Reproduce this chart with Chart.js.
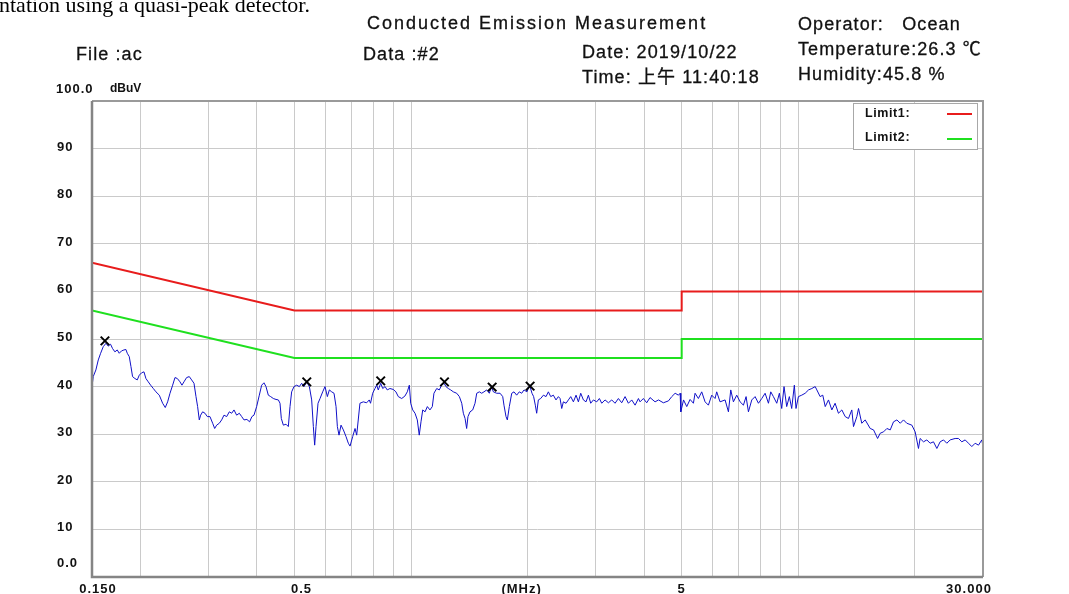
<!DOCTYPE html>
<html>
<head>
<meta charset="utf-8">
<script src="https://cdn.jsdelivr.net/npm/chart.js@4.4.1/dist/chart.umd.min.js"></script>
<style>
  html, body { margin:0; padding:0; background:#fff; }
  #wrap { position:relative; width:1069px; height:594px; overflow:hidden; }
  #grafica { position:absolute; left:0; top:0; }
  .txt {
    position:absolute; white-space:pre; line-height:1; color:#111;
    font-family:"Liberation Sans", Arial, "Noto Sans CJK SC", sans-serif;
    font-size:18px; letter-spacing:1.1px; -webkit-text-stroke:0.3px #111;
  }
  .doc { font-family:"Liberation Serif", "Times New Roman", serif; font-size:22px; letter-spacing:0; color:#000; -webkit-text-stroke:0; }
</style>
</head>
<body>
<div id="wrap">
  <canvas id="grafica" width="1069" height="594"></canvas>
  <div class="txt doc" style="left:-1px;top:-6px">ntation using a quasi-peak detector.</div>
  <div class="txt" style="left:367px;top:13.8px;letter-spacing:2px">Conducted Emission Measurement</div>
  <div class="txt" style="left:76px;top:44.8px">File :ac</div>
  <div class="txt" style="left:363px;top:44.8px">Data :#2</div>
  <div class="txt" style="left:582px;top:42.8px">Date: 2019/10/22</div>
  <div class="txt" style="left:582px;top:67.8px">Time: 上午 11:40:18</div>
  <div class="txt" style="left:798px;top:14.8px">Operator:   Ocean</div>
  <div class="txt" style="left:798px;top:39.8px">Temperature:26.3 ℃</div>
  <div class="txt" style="left:798px;top:64.8px">Humidity:45.8 %</div>
</div>
<script>
// frequency axis (MHz) and level axis (dBuV)
const X_MIN = 0.15;
const X_MAX = 30;
const X_GRID = [0.2, 0.3, 0.4, 0.5, 0.6, 0.7, 0.8, 0.9, 1, 2, 3, 4, 5, 6, 7, 8, 9, 10, 20];
const X_LABELS = [0.15, 0.5, 5, 30];
const X_LABEL_TEXT = ["0.150", "0.5", "5", "30.000"];
const Y_MIN = 0;
const Y_MAX = 100;
const Y_LABELS = [10, 20, 30, 40, 50, 60, 70, 80, 90];

// limit lines
const LIMIT1_MHZ = [0.15, 0.5, 5, 5, 30];
const LIMIT1_DBUV = [66, 56, 56, 60, 60];
const LIMIT2_MHZ = [0.15, 0.5, 5, 5, 30];
const LIMIT2_DBUV = [56, 46, 46, 50, 50];

const TRAZA_MHZ = [
  // 0.15 - 0.73 MHz
  0.150, 0.1511, 0.1535, 0.1557, 0.1579, 0.1604, 0.1630, 0.1652, 0.1675, 0.1695,
  0.1719, 0.1743, 0.1764, 0.1788, 0.1814, 0.1835, 0.1850, 0.1872, 0.1891, 0.1909,
  0.1936, 0.1963, 0.1987, 0.2015, 0.2043, 0.2067, 0.2096, 0.2126, 0.2160, 0.2194,
  0.2238, 0.2283, 0.2319, 0.2352, 0.2385, 0.2423, 0.2457, 0.2491, 0.2531, 0.2561,
  0.2592, 0.2633, 0.2675, 0.2713, 0.2751, 0.2784, 0.2811, 0.2839, 0.2862, 0.2896,
  0.2937, 0.2978, 0.3025, 0.3074, 0.3111, 0.3148, 0.3198, 0.3243, 0.3288, 0.3341,
  0.3394, 0.3442, 0.3490, 0.3545, 0.3602, 0.3653, 0.3704, 0.3768, 0.3829, 0.3882,
  0.3930, 0.3993, 0.4057, 0.4114, 0.4171, 0.4221, 0.4280, 0.4340, 0.4409, 0.4480,
  0.4543, 0.4588, 0.4624, 0.4680, 0.4755, 0.4821, 0.4869, 0.4917, 0.4986, 0.5066,
  0.5147, 0.5219, 0.5292, 0.5376, 0.5463, 0.5539, 0.5594, 0.5638, 0.5684, 0.5752,
  0.5821, 0.5913, 0.5996, 0.6080, 0.6153, 0.6239, 0.6326, 0.6402, 0.6453, 0.6517,
  0.6595, 0.6688, 0.6794, 0.6888, 0.6958, 0.7069, 0.7168, 0.7239,
  // 0.74 - 3.9 MHz
  0.738, 0.753, 0.768, 0.780, 0.786, 0.796, 0.807, 0.815, 0.823, 0.835,
  0.845, 0.857, 0.868, 0.882, 0.900, 0.914, 0.927, 0.946, 0.964, 0.978,
  0.990, 0.998, 1.010, 1.024, 1.038, 1.050, 1.061, 1.072, 1.087, 1.102,
  1.119, 1.135, 1.146, 1.165, 1.183, 1.200, 1.217, 1.231, 1.248, 1.266,
  1.286, 1.312, 1.333, 1.352, 1.365, 1.379, 1.392, 1.403, 1.420, 1.443,
  1.463, 1.478, 1.501, 1.522, 1.543, 1.568, 1.593, 1.612, 1.632, 1.664,
  1.698, 1.725, 1.738, 1.759, 1.773, 1.794, 1.820, 1.845, 1.874, 1.904,
  1.931, 1.958, 1.992, 2.024, 2.053, 2.073, 2.094, 2.111, 2.132, 2.162,
  2.197, 2.232, 2.263, 2.295, 2.331, 2.368, 2.402, 2.426, 2.450, 2.474,
  2.514, 2.549, 2.585, 2.626, 2.668, 2.705, 2.743, 2.787, 2.831, 2.871,
  2.911, 2.958, 3.017, 3.065, 3.108, 3.170, 3.234, 3.298, 3.364, 3.432,
  3.500, 3.571, 3.642, 3.715, 3.790, 3.866,
  // 3.9 - 30 MHz
  3.903, 3.981, 4.061, 4.142, 4.268, 4.356, 4.484, 4.622, 4.714, 4.809,
  4.905, 4.954, 4.974, 5.055, 5.153, 5.256, 5.361, 5.414, 5.522, 5.633,
  5.746, 5.861, 5.978, 6.098, 6.158, 6.281, 6.472, 6.602, 6.694, 6.801,
  6.937, 7.076, 7.218, 7.333, 7.436, 7.585, 7.736, 7.892, 8.050, 8.211,
  8.376, 8.492, 8.626, 8.800, 8.939, 9.063, 9.190, 9.336, 9.485, 9.618,
  9.771, 9.868, 10.01, 10.21, 10.42, 10.63, 10.84, 11.06, 11.17, 11.39,
  11.57, 11.74, 11.97, 12.21, 12.45, 12.70, 12.96, 13.22, 13.48, 13.75,
  13.89, 14.17, 14.31, 14.59, 14.89, 15.34, 15.65, 16.03, 16.28, 16.61,
  16.94, 17.28, 17.62, 17.98, 18.34, 18.70, 19.07, 19.65, 20.04, 20.44,
  20.64, 21.06, 21.48, 21.91, 22.35, 22.80, 23.25, 23.72, 24.19, 24.68,
  25.42, 25.93, 26.45, 26.98, 27.52, 28.07, 28.63, 29.21, 29.79, 30.00
];
const TRAZA_DBUV = [
  // 0.15 - 0.73 MHz
  40.0, 42.1, 43.5, 45.6, 47.0, 48.4, 49.1, 48.5, 48.9, 48.0,
  47.3, 47.7, 47.0, 47.5, 47.7, 47.8, 47.0, 46.3, 44.2, 42.1,
  41.7, 41.4, 42.4, 42.9, 43.1, 41.7, 41.0, 40.3, 39.6, 38.9,
  38.2, 36.5, 35.6, 36.8, 38.6, 40.3, 41.9, 41.7, 41.0, 40.3,
  41.0, 41.9, 42.1, 41.4, 40.7, 37.9, 35.8, 33.0, 34.0, 34.7,
  34.4, 33.7, 33.7, 32.3, 31.2, 31.9, 32.3, 33.0, 34.0, 33.7,
  34.7, 34.4, 35.1, 34.0, 34.4, 33.7, 33.0, 33.1, 32.6, 33.7,
  34.0, 35.8, 38.2, 40.3, 40.8, 40.0, 38.2, 37.9, 37.5, 37.3,
  37.2, 36.5, 33.3, 31.9, 32.1, 31.6, 35.8, 38.9, 40.0, 40.3,
  40.0, 40.7, 40.0, 41.0, 40.0, 37.2, 31.6, 27.7, 31.6, 36.5,
  37.5, 38.9, 40.0, 37.9, 39.3, 38.9, 38.6, 35.8, 31.6, 29.8,
  31.9, 30.9, 29.5, 28.1, 27.5, 29.5, 31.2, 29.8,
  // 0.74 - 3.9 MHz
  36.5, 36.8, 36.6, 37.2, 36.5, 38.6, 39.6, 40.3, 39.3, 40.7,
  39.6, 40.0, 39.3, 39.6, 39.4, 38.9, 37.9, 37.5, 38.0, 38.9,
  40.3, 36.5, 35.1, 34.4, 33.0, 29.8, 32.6, 35.1, 34.7, 35.8,
  35.1, 35.8, 38.6, 39.6, 39.3, 40.3, 40.7, 40.0, 39.6, 39.3,
  38.9, 38.6, 37.9, 36.5, 34.4, 33.3, 31.2, 33.7, 34.7, 35.1,
  36.5, 38.6, 38.9, 38.6, 38.9, 39.3, 38.6, 40.0, 38.9, 38.6,
  38.6, 37.9, 36.1, 33.7, 33.0, 35.8, 38.6, 38.9, 38.2, 38.9,
  38.6, 39.3, 38.9, 40.3, 38.6, 37.9, 36.1, 34.4, 37.2, 37.5,
  38.2, 37.9, 38.9, 37.9, 38.2, 37.2, 37.9, 37.5, 35.4, 36.8,
  36.5, 37.2, 37.9, 36.8, 38.2, 36.8, 38.6, 37.2, 36.8, 38.2,
  36.5, 37.2, 36.8, 37.5, 36.5, 37.2, 36.6, 37.2, 36.5, 37.5,
  36.6, 37.9, 36.5, 37.2, 36.1, 37.5,
  // 3.9 - 30 MHz
  36.8, 37.5, 36.6, 37.7, 36.8, 37.2, 36.6, 37.0, 37.9, 38.6,
  38.2, 38.6, 34.7, 37.2, 35.8, 37.3, 36.5, 38.6, 37.5, 38.9,
  36.8, 36.1, 38.2, 37.5, 38.9, 36.8, 37.2, 34.7, 39.3, 36.8,
  38.2, 36.8, 36.1, 37.9, 34.7, 37.2, 37.9, 36.5, 37.5, 38.6,
  36.5, 38.9, 37.9, 36.5, 38.6, 35.4, 40.0, 35.8, 37.9, 35.4,
  40.3, 35.4, 37.9, 38.2, 38.6, 39.3, 39.6, 40.0, 39.3, 37.9,
  38.2, 35.8, 37.2, 35.1, 36.5, 34.4, 35.1, 33.7, 33.3, 35.1,
  31.6, 33.7, 35.4, 32.3, 33.0, 31.2, 30.9, 29.1, 30.2, 30.5,
  31.2, 30.9, 32.6, 33.0, 32.3, 33.0, 32.3, 31.9, 30.5, 27.0,
  29.1, 28.4, 28.8, 28.1, 28.4, 27.0, 28.4, 28.8, 28.1, 28.8,
  29.1, 29.1, 28.4, 28.8, 28.1, 27.4, 28.1, 27.7, 28.8, 27.4
];

// peak markers (x)
const PICOS_MHZ = [0.162, 0.538, 0.835, 1.22, 1.62, 2.03];
const PICOS_DBUV = [49.6, 41.0, 41.2, 41.0, 39.9, 40.1];

const COLORES = {
  traza: "#1010c8",
  limit1: "#e81c1c",
  limit2: "#1fe01f",
  grid: "#cacaca",
  marco: "#858585",
  texto: "#111111"
};

const FUENTE = '"Liberation Sans", Arial, sans-serif';

function puntos(xs, ys) {
  return xs.map((x, i) => ({ x: x, y: ys[i] }));
}

// axis labels, legend and frame drawn on top of the plot
const extras = {
  id: "extras",
  afterDraw(chart) {
    const ctx = chart.ctx;
    const area = chart.chartArea;
    const sx = chart.scales.x;
    const sy = chart.scales.y;

    ctx.save();

    // frame
    ctx.strokeStyle = "#9a9a9a";
    ctx.lineWidth = 2;
    ctx.beginPath();
    ctx.moveTo(area.left, area.top);
    ctx.lineTo(area.right, area.top);
    ctx.lineTo(area.right, area.bottom);
    ctx.stroke();
    ctx.strokeStyle = COLORES.marco;
    ctx.lineWidth = 2.5;
    ctx.beginPath();
    ctx.moveTo(area.left, area.top);
    ctx.lineTo(area.left, area.bottom);
    ctx.lineTo(area.right, area.bottom);
    ctx.stroke();

    ctx.fillStyle = COLORES.texto;
    ctx.font = "bold 13px " + FUENTE;
    ctx.letterSpacing = "1px";
    ctx.textBaseline = "middle";

    // y labels
    ctx.textAlign = "left";
    Y_LABELS.forEach(v => {
      ctx.fillText(String(v), 57, sy.getPixelForValue(v) - 1.5);
    });
    ctx.fillText("0.0", 57, sy.getPixelForValue(Y_MIN) - 14);
    ctx.fillText("100.0", 56, sy.getPixelForValue(Y_MAX) - 12);
    ctx.font = "bold 12px " + FUENTE;
    ctx.letterSpacing = "0px";
    ctx.fillText("dBuV", 110, sy.getPixelForValue(Y_MAX) - 12);

    // x labels
    ctx.font = "bold 13px " + FUENTE;
    ctx.letterSpacing = "1px";
    ctx.textAlign = "center";
    const dx = [6, 7, 0, -14];
    X_LABELS.forEach((v, i) => {
      ctx.fillText(X_LABEL_TEXT[i], sx.getPixelForValue(v) + dx[i], area.bottom + 12);
    });
    ctx.fillText("(MHz)", sx.getPixelForValue(2) - 6, area.bottom + 12);

    // legend
    const lx = area.right - 130;
    const ly = area.top + 2;
    ctx.fillStyle = "#ffffff";
    ctx.fillRect(lx, ly, 124, 46);
    ctx.strokeStyle = "#a8a8a8";
    ctx.lineWidth = 1;
    ctx.strokeRect(lx + 0.5, ly + 0.5, 124, 46);

    ctx.fillStyle = COLORES.texto;
    ctx.textAlign = "left";
    ctx.font = "bold 12.5px " + FUENTE;
    ctx.letterSpacing = "0.6px";
    ctx.fillText("Limit1:", lx + 12, ly + 11);
    ctx.fillText("Limit2:", lx + 12, ly + 35);

    ctx.lineWidth = 2;
    ctx.strokeStyle = COLORES.limit1;
    ctx.beginPath();
    ctx.moveTo(lx + 94, ly + 11);
    ctx.lineTo(lx + 119, ly + 11);
    ctx.stroke();
    ctx.strokeStyle = COLORES.limit2;
    ctx.beginPath();
    ctx.moveTo(lx + 94, ly + 36);
    ctx.lineTo(lx + 119, ly + 36);
    ctx.stroke();

    ctx.restore();
  }
};

new Chart(document.getElementById("grafica"), {
  type: "line",
  data: {
    datasets: [
      {
        data: puntos(PICOS_MHZ, PICOS_DBUV),
        showLine: false,
        pointStyle: "crossRot",
        pointRadius: 6,
        borderColor: "#000",
        borderWidth: 2,
        clip: false
      },
      {
        data: puntos(LIMIT1_MHZ, LIMIT1_DBUV),
        borderColor: COLORES.limit1,
        borderWidth: 2,
        pointRadius: 0,
        tension: 0
      },
      {
        data: puntos(LIMIT2_MHZ, LIMIT2_DBUV),
        borderColor: COLORES.limit2,
        borderWidth: 2,
        pointRadius: 0,
        tension: 0
      },
      {
        data: puntos(TRAZA_MHZ, TRAZA_DBUV),
        borderColor: COLORES.traza,
        borderWidth: 1,
        pointRadius: 0,
        tension: 0
      }
    ]
  },
  options: {
    responsive: false,
    animation: false,
    events: [],
    layout: { padding: { left: 92, right: 86, top: 101, bottom: 17 } },
    plugins: { legend: { display: false }, tooltip: { enabled: false } },
    scales: {
      x: {
        type: "logarithmic",
        min: X_MIN,
        max: X_MAX,
        afterBuildTicks: axis => { axis.ticks = X_GRID.map(v => ({ value: v })); },
        ticks: { display: false },
        grid: { color: COLORES.grid, lineWidth: 1, drawTicks: false },
        border: { display: false }
      },
      y: {
        min: Y_MIN,
        max: Y_MAX,
        ticks: { display: false, stepSize: 10 },
        grid: { color: COLORES.grid, lineWidth: 1, drawTicks: false },
        border: { display: false }
      }
    }
  },
  plugins: [extras]
});
</script>
</body>
</html>
